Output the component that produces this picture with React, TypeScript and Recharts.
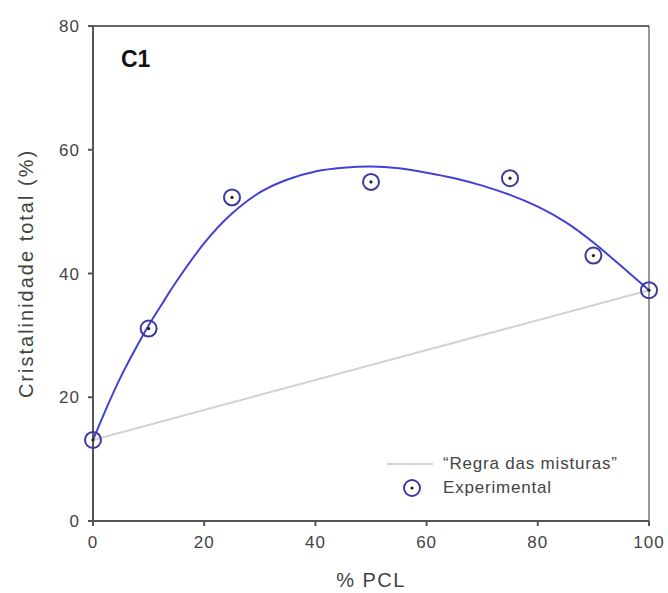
import React from 'react';
import {
  ComposedChart,
  Line,
  Scatter,
  XAxis,
  YAxis,
  ReferenceLine,
} from 'recharts';

// % PCL of the experimental blends
const pclContent = [0, 10, 25, 50, 75, 90, 100];
const crystallinity = [13.1, 31.1, 52.3, 54.8, 55.4, 42.9, 37.3];

// fitted curve
const fitX = [0, 2.5, 5, 7.5, 10, 12.5, 15, 20, 25, 30, 35, 40, 45, 50, 55, 60, 65, 70, 75, 80, 85, 90, 95, 100];
const fitY = [13.1, 18.4, 23.3, 27.6, 31.6, 35.2, 38.7, 44.9, 49.7, 53.1, 55.2, 56.5, 57.1, 57.3, 57.0, 56.3, 55.4, 54.2, 52.7, 50.8, 48.3, 45.0, 41.2, 37.3];

// "Regra das misturas" (rule of mixtures) line
const mixX = [0, 100];
const mixY = [13.1, 37.3];

const xTicks = [0, 20, 40, 60, 80, 100];
const yTicks = [0, 20, 40, 60, 80];

const expData = pclContent.map((x, i) => ({ x, y: crystallinity[i] }));
const fitData = fitX.map((x, i) => ({ x, y: fitY[i] }));
const mixData = mixX.map((x, i) => ({ x, y: mixY[i] }));

const FONT = "'Liberation Sans', Arial, sans-serif";
const MARK = '#3a3a9e';
const TEXT = '#444';

const CircleDot = (props: any) => {
  const { cx, cy } = props;
  if (cx == null || cy == null) return null;
  return (
    <g>
      <circle cx={cx} cy={cy} r={8} fill="none" stroke={MARK} strokeWidth={2} />
      <circle cx={cx} cy={cy} r={1.6} fill="#222" />
    </g>
  );
};

export default function App() {
  return (
    <div style={{ position: 'absolute', left: 0, top: 0, width: 668, height: 593, background: '#fff', fontFamily: FONT }}>
      <ComposedChart width={668} height={593} margin={{ top: 26, right: 19, bottom: 0, left: 0 }}>
        <XAxis
          type="number"
          dataKey="x"
          domain={[0, 100]}
          ticks={xTicks}
          height={72}
          tickSize={5}
          tickMargin={10}
          stroke="#555"
          strokeWidth={2}
          tick={{ fontSize: 17, fill: TEXT, fontFamily: FONT, letterSpacing: 1 }}
          label={{ value: '% PCL', position: 'insideBottom', offset: 6, style: { fontSize: 20, fill: TEXT, fontFamily: FONT, letterSpacing: 1.5 } }}
        />
        <YAxis
          type="number"
          dataKey="y"
          domain={[0, 80]}
          ticks={yTicks}
          width={93}
          tickSize={5}
          tickMargin={8}
          stroke="#555"
          strokeWidth={2}
          tick={{ fontSize: 17, fill: TEXT, fontFamily: FONT, letterSpacing: 1 }}
          label={{
            value: 'Cristalinidade total (%)',
            angle: -90,
            position: 'insideLeft',
            offset: 26,
            style: { fontSize: 20, fill: TEXT, fontFamily: FONT, textAnchor: 'middle', letterSpacing: 2 },
          }}
        />
        <ReferenceLine y={80} stroke="#666" strokeWidth={2} />
        <ReferenceLine x={100} stroke="#333" strokeWidth={1} />
        <Line
          data={mixData}
          dataKey="y"
          type="linear"
          stroke="#d2d2d2"
          strokeWidth={2}
          dot={false}
          activeDot={false}
          isAnimationActive={false}
        />
        <Line
          data={fitData}
          dataKey="y"
          type="natural"
          stroke="#4242d2"
          strokeWidth={2}
          dot={false}
          activeDot={false}
          isAnimationActive={false}
        />
        <Scatter data={expData} dataKey="y" shape={<CircleDot />} isAnimationActive={false} />
      </ComposedChart>

      <div style={{ position: 'absolute', left: 121, top: 46, fontSize: 23, fontWeight: 'bold', color: '#111' }}>C1</div>

      <div style={{ position: 'absolute', left: 387, top: 452, fontSize: 17, color: TEXT, letterSpacing: 0.8 }}>
        <div style={{ position: 'relative', height: 24 }}>
          <div style={{ position: 'absolute', left: 0, top: 11, width: 46, height: 2, background: '#d2d2d2' }} />
          <span style={{ position: 'absolute', left: 56, top: 2, whiteSpace: 'nowrap' }}>“Regra das misturas”</span>
        </div>
        <div style={{ position: 'relative', height: 24 }}>
          <svg width={24} height={24} style={{ position: 'absolute', left: 13, top: 0 }}>
            <circle cx={12} cy={12} r={8} fill="none" stroke={MARK} strokeWidth={2} />
            <circle cx={12} cy={12} r={1.6} fill="#222" />
          </svg>
          <span style={{ position: 'absolute', left: 56, top: 2, whiteSpace: 'nowrap' }}>Experimental</span>
        </div>
      </div>
    </div>
  );
}
